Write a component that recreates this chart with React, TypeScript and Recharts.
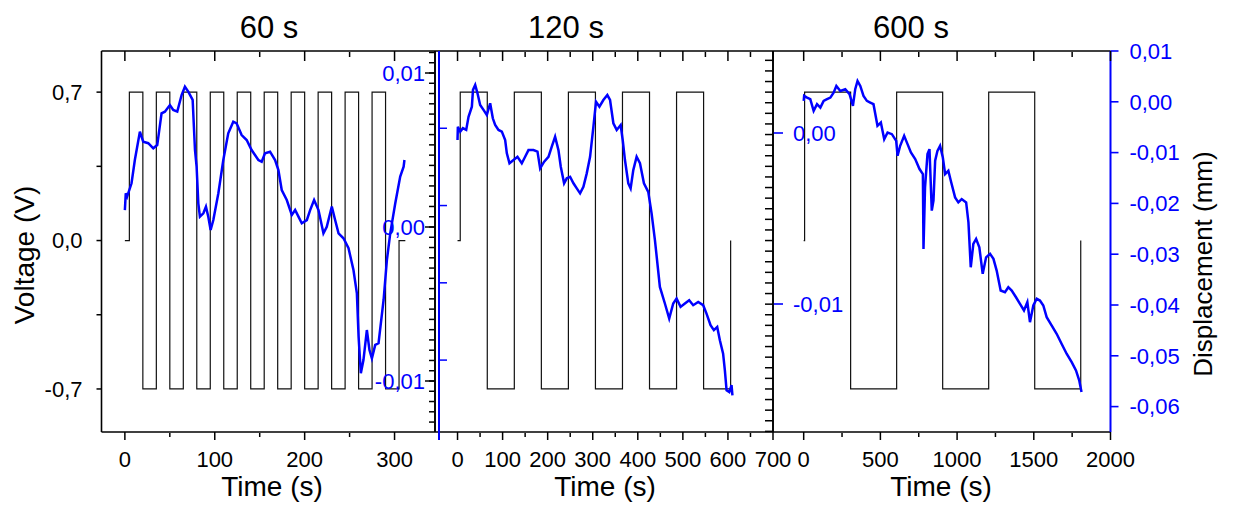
import React from 'react';
import { LineChart, Line, XAxis, YAxis } from 'recharts';

const W = 1233;
const H = 509;
const FONT = '"Liberation Sans", Arial, Helvetica, sans-serif';
const BLUE = '#0000ff';
const BLACK = '#000000';

// ---------- Panel 1 (60 s) ----------
const p1SquareTime = [0, 5, 5, 20, 20, 35, 35, 50, 50, 65, 65, 80, 80, 95, 95, 110, 110, 125, 125, 140, 140, 155, 155, 170, 170, 185, 185, 200, 200, 215, 215, 230, 230, 245, 245, 260, 260, 275, 275, 290, 290, 305, 305, 312];
const p1SquareVolt = [0, 0, 0.7, 0.7, -0.7, -0.7, 0.7, 0.7, -0.7, -0.7, 0.7, 0.7, -0.7, -0.7, 0.7, 0.7, -0.7, -0.7, 0.7, 0.7, -0.7, -0.7, 0.7, 0.7, -0.7, -0.7, 0.7, 0.7, -0.7, -0.7, 0.7, 0.7, -0.7, -0.7, 0.7, 0.7, -0.7, -0.7, 0.7, 0.7, -0.7, -0.7, 0, 0];
const p1DispTime = [0, 1, 2.5, 7.4, 11.1, 16.7, 20.4, 26, 31.6, 36, 40.8, 44.5, 50.1, 53.8, 58.3, 63.1, 66.8, 70.5, 75.4, 78, 79.8, 81.7, 83.5, 87.3, 90.2, 92.8, 95.4, 98.4, 104, 109.5, 115, 120.6, 124.3, 129.9, 135.5, 141, 148.5, 152.2, 155.9, 161.5, 167.1, 170.8, 174.5, 180.1, 185.7, 189.4, 193.1, 196.8, 202.4, 206.1, 210.5, 215.4, 220.9, 224.6, 230.2, 233.9, 237.7, 243.2, 248.8, 254.3, 258.1, 260, 262.5, 265.4, 269.2, 272.1, 274.8, 278.5, 282.2, 287.8, 291.5, 295.2, 300.8, 306.3, 310.1, 311];
const p1Disp = [0.0011, 0.00219, 0.00197, 0.00284, 0.00435, 0.00619, 0.00554, 0.00544, 0.00511, 0.00532, 0.00738, 0.00749, 0.00792, 0.0076, 0.00749, 0.00857, 0.00911, 0.00879, 0.00825, 0.005, 0.00392, 0.00154, 0.00067, 0.00089, 0.00132, 0.00067, -0.00019, 0.00045, 0.00219, 0.00435, 0.00608, 0.00684, 0.00673, 0.00597, 0.00565, 0.005, 0.00435, 0.00424, 0.00479, 0.00489, 0.00435, 0.0037, 0.0024, 0.00175, 0.00078, 0.0011, 0.00067, 0.00024, 0.00045, 0.0011, 0.00175, 0.0011, -0.00041, 0.00002, 0.00132, 0.00045, -0.00041, -0.00073, -0.00138, -0.00279, -0.00431, -0.00712, -0.0095, -0.00864, -0.00669, -0.00799, -0.00853, -0.00766, -0.00755, -0.00474, -0.00214, -0.00041, 0.00154, 0.00327, 0.00392, 0.00435];

// ---------- Panel 2 (120 s) ----------
const p2SquareTime = [0, 6, 6, 66, 66, 126, 126, 186, 186, 246, 246, 306, 306, 366, 366, 426, 426, 486, 486, 546, 546, 606, 606];
const p2SquareVolt = [0, 0, 0.7, 0.7, -0.7, -0.7, 0.7, 0.7, -0.7, -0.7, 0.7, 0.7, -0.7, -0.7, 0.7, 0.7, -0.7, -0.7, 0.7, 0.7, -0.7, -0.7, 0];
const p2DispTime = [0, 0.7, 6, 11.9, 19.2, 24.4, 31.8, 34.3, 39.2, 44.3, 50.2, 57.6, 65, 72.4, 78.3, 83.5, 90.9, 98.3, 105.7, 109.4, 115.3, 124.2, 133, 142.6, 150, 157.4, 168.5, 177.4, 183.3, 192.2, 201.8, 209.1, 216.5, 223.9, 229.1, 236.5, 242.4, 249.8, 257.2, 264.6, 271.9, 279.3, 286.7, 294.1, 301.5, 307.3, 314.8, 323.6, 332.4, 338.4, 345.8, 353.2, 362, 366.5, 371.5, 378.9, 384.1, 390, 397.4, 404.8, 413.6, 423.2, 430.6, 438, 449, 460.1, 469.7, 478.6, 486, 494.9, 504.5, 514, 522.9, 534, 545, 552.5, 561.4, 568.8, 576.2, 582.1, 589.3, 593.2, 597, 603, 608, 610];
const p2Disp = [-0.00041, 0.00037, 0.00008, 0.00028, 0.00018, 0.00095, 0.00154, 0.00252, 0.00281, 0.00232, 0.00164, 0.00135, 0.00105, 0.00174, 0.00086, 0.00047, 0.00018, 0.00008, -0.00041, -0.00119, -0.00177, -0.00158, -0.00139, -0.00177, -0.00139, -0.001, -0.001, -0.00109, -0.00207, -0.00168, -0.00139, -0.0008, -0.00022, -0.001, -0.00197, -0.00294, -0.00265, -0.00256, -0.00294, -0.00324, -0.00353, -0.00314, -0.00236, -0.00139, 0.00037, 0.00183, 0.00154, 0.00193, 0.00222, 0.00193, 0.00057, 0.00018, 0.00047, -0.00041, -0.00158, -0.00294, -0.00324, -0.00217, -0.00139, -0.00177, -0.00294, -0.00344, -0.0047, -0.00626, -0.009, -0.00997, -0.01085, -0.00997, -0.00968, -0.01017, -0.00997, -0.00978, -0.01007, -0.00988, -0.01007, -0.01056, -0.01124, -0.01153, -0.01134, -0.01212, -0.0129, -0.01388, -0.01505, -0.01515, -0.01475, -0.01534];

// ---------- Panel 3 (600 s) ----------
const p3SquareTime = [0, 6, 6, 306, 306, 606, 606, 906, 906, 1206, 1206, 1506, 1506, 1806, 1806];
const p3SquareVolt = [0, 0, 0.7, 0.7, -0.7, -0.7, 0.7, 0.7, -0.7, -0.7, 0.7, 0.7, -0.7, -0.7, 0];
const p3DispTime = [0, 3, 22, 43, 65, 87, 108.6, 130, 152, 174, 195, 213, 239, 271, 299, 321, 336, 351, 369, 390, 412, 434, 455, 481, 503, 525, 547, 575, 603, 612, 629, 655, 677, 699, 727, 755, 777, 781, 791, 807, 820, 835, 846, 857, 872, 889, 907, 922, 943, 959, 987, 1008, 1030, 1059, 1074, 1089, 1106, 1124, 1145, 1167, 1189, 1215, 1237, 1258, 1284, 1312, 1334, 1356, 1384, 1410, 1436, 1458, 1475, 1497, 1519, 1540, 1562, 1584, 1616, 1649, 1681, 1714, 1747, 1775, 1796, 1811];
const p3Disp = [0.00018, 0.00116, 0.00083, 0.00051, -0.00179, -0.00047, -0.00114, 0.00018, 0.00051, 0.00083, 0.00181, 0.00312, 0.00214, 0.00248, 0.00149, -0.00081, 0.00248, 0.00411, 0.00312, 0.00116, 0.00018, -0.00016, -0.00047, -0.00473, -0.00409, -0.00735, -0.00605, -0.00637, -0.00768, -0.01063, -0.00866, -0.0067, -0.00833, -0.00998, -0.01128, -0.01324, -0.01422, -0.02896, -0.01686, -0.01029, -0.00931, -0.02143, -0.01947, -0.01161, -0.00965, -0.00866, -0.01096, -0.01422, -0.01358, -0.01554, -0.01882, -0.0198, -0.01914, -0.0198, -0.02373, -0.03257, -0.02798, -0.02699, -0.02864, -0.03387, -0.03061, -0.02994, -0.03092, -0.03322, -0.03715, -0.03748, -0.0365, -0.03715, -0.03847, -0.03976, -0.04108, -0.03945, -0.04338, -0.0401, -0.03878, -0.03912, -0.0401, -0.0424, -0.04403, -0.04566, -0.04762, -0.04959, -0.05124, -0.05287, -0.05483, -0.05713];

// ---------- Ticks & labels ----------
const p1TimeTicks = [0, 100, 200, 300];
const p1TimeLabels = ['0', '100', '200', '300'];
const p1TimeMinor = [50, 150, 250];
const p2TimeTicks = [0, 100, 200, 300, 400, 500, 600, 700];
const p2TimeLabels = ['0', '100', '200', '300', '400', '500', '600', '700'];
const p2TimeMinor = [50, 150, 250, 350, 450, 550, 650];
const p3TimeTicks = [0, 500, 1000, 1500, 2000];
const p3TimeLabels = ['0', '500', '1000', '1500', '2000'];
const p3TimeMinor = [250, 750, 1250, 1750];

const voltTicks = [-0.7, -0.35, 0, 0.35, 0.7];
const voltLabels = ['-0,7', '', '0,0', '', '0,7'];

const p1DispTicks = [-0.01, 0, 0.01];
const p1DispLabels = ['-0,01', '0,00', '0,01'];
const p2LeftDispTicks = [-0.01, -0.005, 0, 0.005];
const p2DispTicks = [-0.01, 0];
const p2DispLabels = ['-0,01', '0,00'];
const p2DispMinor = [-0.015, -0.005];
const p3DispTicks = [0.01, 0, -0.01, -0.02, -0.03, -0.04, -0.05, -0.06];
const p3DispLabels = ['0,01', '0,00', '-0,01', '-0,02', '-0,03', '-0,04', '-0,05', '-0,06'];
const p3DispMinor = [0.005, -0.005, -0.015, -0.025, -0.035, -0.045, -0.055, -0.065];

const stepTicks = (from: number, to: number, step: number) => {
  const out: number[] = [];
  const n = Math.round((to - from) / step);
  for (let i = 0; i <= n; i++) out.push(+(from + i * step).toFixed(6));
  return out;
};
const voltFine = stepTicks(-0.9, 0.85, 0.05);
const p1DispFine = stepTicks(-0.0126667, 0.0113333, 0.01 / 15);

// ---------- Domains ----------
const VOLT_DOMAIN: [number, number] = [-0.903, 0.894];
const P1_T_DOMAIN: [number, number] = [-26, 345];
const P2_T_DOMAIN: [number, number] = [-50, 700];
const P3_T_DOMAIN: [number, number] = [-200, 2000];
const P1_D_DOMAIN: [number, number] = [-0.013312, 0.011429];
const P2L_D_DOMAIN: [number, number] = [-0.01517, 0.01];
const P2_D_DOMAIN: [number, number] = [-0.017485, 0.004795];
const P3_D_DOMAIN: [number, number] = [-0.065, 0.01];

const zip = (ts: number[], vs: number[], key: string) =>
  ts.slice(0, Math.min(ts.length, vs.length)).map((t, i) => ({ t, [key]: vs[i] }));

const p1Square = zip(p1SquareTime, p1SquareVolt, 'v');
const p1DispData = zip(p1DispTime, p1Disp, 'd');
const p2Square = zip(p2SquareTime, p2SquareVolt, 'v');
const p2DispData = zip(p2DispTime, p2Disp, 'd');
const p3Square = zip(p3SquareTime, p3SquareVolt, 'v');
const p3DispData = zip(p3DispTime, p3Disp, 'd');

const frame = { stroke: BLACK, strokeWidth: 1.6 };
const blueLine = { stroke: BLUE, strokeWidth: 2 };
const tickText = (fill: string) => ({ fill, fontSize: 22, fontFamily: FONT });
const fmt = (ticks: number[], labels: string[]) => (v: number) => {
  const i = ticks.findIndex((t) => Math.abs(t - v) < 1e-9);
  return i >= 0 ? labels[i] : '';
};

// Tick renderer: draws the tick mark (relative to the label anchor that the axis gives) and the label.
type Kind = 'down' | 'left' | 'right';
function makeTick(kind: Kind, size: number, margin: number, color: string, ticks?: number[], labels?: string[], fill?: string) {
  const label = ticks && labels ? fmt(ticks, labels) : null;
  return function TickMark(props: any) {
    const xx = Number(props.x);
    const yy = Number(props.y);
    const value = props.payload ? props.payload.value : 0;
    let x1 = xx, x2 = xx, y1 = yy, y2 = yy;
    if (kind === 'down') {
      y1 = yy - margin - size;
      y2 = yy - margin;
    } else if (kind === 'left') {
      x1 = xx + margin;
      x2 = xx + margin + size;
    } else {
      x1 = xx - margin - size;
      x2 = xx - margin;
    }
    const text = label ? label(value) : '';
    return (
      <g>
        <line x1={x1} y1={y1} x2={x2} y2={y2} stroke={color} strokeWidth={1.5} />
        {text ? (
          <text
            x={xx}
            y={yy}
            dy={kind === 'down' ? '0.71em' : '0.355em'}
            textAnchor={kind === 'down' ? 'middle' : kind === 'left' ? 'end' : 'start'}
            fill={fill || color}
            fontSize={22}
            fontFamily={FONT}
          >
            {text}
          </text>
        ) : null}
      </g>
    );
  };
}

const TOP = 51;
const PLOT_BOTTOM = 432;
const MARGIN_BOTTOM = H - PLOT_BOTTOM - 2;
const X_LABEL_MARGIN = 11;

function timeAxes(domain: [number, number], major: number[], majorLabels: string[], minor: number[]) {
  return [
    <XAxis key="b" xAxisId="b" type="number" dataKey="t" domain={domain} allowDataOverflow ticks={major} interval={0}
      height={1} tickSize={8} tickMargin={X_LABEL_MARGIN} stroke={BLACK} axisLine={frame} tickLine={false}
      tick={makeTick('down', 8, X_LABEL_MARGIN, BLACK, major, majorLabels, BLACK)} />,
    <XAxis key="bm" xAxisId="bm" type="number" dataKey="t" domain={domain} allowDataOverflow ticks={minor} interval={0}
      height={1} tickSize={4} tickMargin={0} stroke={BLACK} axisLine={false} tickLine={false}
      tick={makeTick('down', 4, 0, BLACK)} />,
    <XAxis key="t" xAxisId="t" orientation="top" mirror type="number" dataKey="t" domain={domain} allowDataOverflow ticks={major} interval={0}
      height={1} tickSize={10} tickMargin={0} stroke={BLACK} axisLine={frame} tickLine={false}
      tick={makeTick('down', 10, 0, BLACK)} />,
    <XAxis key="tm" xAxisId="tm" orientation="top" mirror type="number" dataKey="t" domain={domain} allowDataOverflow ticks={minor} interval={0}
      height={1} tickSize={5} tickMargin={0} stroke={BLACK} axisLine={false} tickLine={false}
      tick={makeTick('down', 5, 0, BLACK)} />,
  ];
}

const lineCommon = { dot: false as const, activeDot: false as const, isAnimationActive: false, xAxisId: 'b' };
const BLUE_W = 2.5;

function Panel1() {
  return (
    <LineChart width={W} height={H} margin={{ top: TOP, bottom: MARGIN_BOTTOM, left: 100.5, right: W - 435 }}>
      {timeAxes(P1_T_DOMAIN, p1TimeTicks, p1TimeLabels, p1TimeMinor)}
      <YAxis yAxisId="v" type="number" domain={VOLT_DOMAIN} allowDataOverflow ticks={voltTicks} interval={0} width={1}
        tickSize={5} tickMargin={14} stroke={BLACK} axisLine={frame} tickLine={false}
        tick={makeTick('left', 5, 14, BLACK, voltTicks, voltLabels, BLACK)} />
      <YAxis yAxisId="d" orientation="right" mirror type="number" domain={P1_D_DOMAIN} allowDataOverflow ticks={p1DispTicks} interval={0} width={1}
        tickSize={10} tickMargin={0} stroke={BLACK} axisLine={frame} tickLine={false}
        tick={makeTick('left', 10, 0, BLACK, p1DispTicks, p1DispLabels, BLUE)} />
      <YAxis yAxisId="dm" orientation="right" mirror type="number" domain={P1_D_DOMAIN} allowDataOverflow ticks={p1DispFine} interval={0} width={1}
        tickSize={5} tickMargin={0} stroke={BLACK} axisLine={false} tickLine={false}
        tick={makeTick('left', 5, 0, BLACK)} />
      <Line {...lineCommon} yAxisId="v" data={p1Square} dataKey="v" stroke="#111" strokeWidth={1.2} />
      <Line {...lineCommon} yAxisId="d" data={p1DispData} dataKey="d" stroke={BLUE} strokeWidth={BLUE_W} />
    </LineChart>
  );
}

function Panel2() {
  return (
    <LineChart width={W} height={H} margin={{ top: TOP, bottom: MARGIN_BOTTOM, left: 434, right: W - 773 - 2 }}>
      {timeAxes(P2_T_DOMAIN, p2TimeTicks, p2TimeLabels, p2TimeMinor)}
      <YAxis yAxisId="v" type="number" domain={VOLT_DOMAIN} allowDataOverflow ticks={voltTicks} interval={0} width={1}
        stroke={BLACK} axisLine={frame} tickLine={false} tick={false} />
      <YAxis yAxisId="vr" orientation="right" mirror type="number" domain={VOLT_DOMAIN} allowDataOverflow ticks={voltFine} interval={0} width={1}
        tickSize={8} tickMargin={0} stroke={BLACK} axisLine={frame} tickLine={false}
        tick={makeTick('left', 8, 0, BLACK)} />
      <YAxis yAxisId="d" orientation="right" type="number" domain={P2_D_DOMAIN} allowDataOverflow ticks={p2DispTicks} interval={0} width={1}
        tickSize={10} tickMargin={10} stroke={BLUE} strokeWidth={1.6} axisLine={false} tickLine tick={tickText(BLUE)}
        tickFormatter={fmt(p2DispTicks, p2DispLabels)} />
      <YAxis yAxisId="dm" orientation="right" type="number" domain={P2_D_DOMAIN} allowDataOverflow ticks={p2DispMinor} interval={0} width={1}
        tickSize={5} stroke={BLUE} strokeWidth={1.6} axisLine={false} tickLine tick={false} />
      <Line {...lineCommon} yAxisId="v" data={p2Square} dataKey="v" stroke="#111" strokeWidth={1.2} />
      <Line {...lineCommon} yAxisId="d" data={p2DispData} dataKey="d" stroke={BLUE} strokeWidth={BLUE_W} />
    </LineChart>
  );
}

// Separate layer for the offset blue displacement axis on the left of the 120 s panel
function Panel2BlueAxis() {
  return (
    <LineChart width={W} height={H} margin={{ top: TOP, bottom: H - 440, left: 439, right: W - 773 }}>
      <XAxis xAxisId="b" type="number" dataKey="t" domain={P2_T_DOMAIN} allowDataOverflow hide />
      <YAxis yAxisId="dl" type="number" domain={P2L_D_DOMAIN} allowDataOverflow ticks={p2LeftDispTicks} interval={0} width={1}
        mirror tickSize={8} tickMargin={0} stroke={BLUE} axisLine={blueLine} tickLine={false}
        tick={makeTick('right', 8, 0, BLUE)} />
    </LineChart>
  );
}

function Panel3() {
  return (
    <LineChart width={W} height={H} margin={{ top: TOP, bottom: MARGIN_BOTTOM, left: 772, right: W - 1110.5 - 2 }}>
      {timeAxes(P3_T_DOMAIN, p3TimeTicks, p3TimeLabels, p3TimeMinor)}
      <YAxis yAxisId="v" type="number" domain={VOLT_DOMAIN} allowDataOverflow ticks={voltTicks} interval={0} width={1}
        stroke={BLACK} axisLine={frame} tickLine={false} tick={false} />
      <YAxis yAxisId="d" orientation="right" type="number" domain={P3_D_DOMAIN} allowDataOverflow ticks={p3DispTicks} interval={0} width={1}
        tickSize={8} tickMargin={11} stroke={BLUE} strokeWidth={1.6} axisLine={blueLine} tickLine tick={tickText(BLUE)}
        tickFormatter={fmt(p3DispTicks, p3DispLabels)} />
      <YAxis yAxisId="dm" orientation="right" type="number" domain={P3_D_DOMAIN} allowDataOverflow ticks={p3DispMinor} interval={0} width={1}
        tickSize={4} stroke={BLUE} strokeWidth={1.6} axisLine={false} tickLine tick={false} />
      <Line {...lineCommon} yAxisId="v" data={p3Square} dataKey="v" stroke="#111" strokeWidth={1.2} />
      <Line {...lineCommon} yAxisId="d" data={p3DispData} dataKey="d" stroke={BLUE} strokeWidth={BLUE_W} />
    </LineChart>
  );
}

function Txt({ x, y, size, rotate, children }: { x: number; y: number; size: number; rotate?: boolean; children: React.ReactNode }) {
  return (
    <div
      style={{
        position: 'absolute',
        left: x,
        top: y,
        transform: `translate(-50%, -50%)${rotate ? ' rotate(-90deg)' : ''}`,
        fontSize: size,
        lineHeight: 1,
        whiteSpace: 'nowrap',
        fontFamily: FONT,
        color: BLACK,
      }}
    >
      {children}
    </div>
  );
}

const layer: React.CSSProperties = { position: 'absolute', left: 0, top: 0, width: W, height: H };

export default function App() {
  return (
    <div style={{ position: 'absolute', left: 0, top: 0, width: W, height: H, overflow: 'hidden', background: '#fff' }}>
      <div style={layer}><Panel1 /></div>
      <div style={layer}><Panel2 /></div>
      <div style={layer}><Panel2BlueAxis /></div>
      <div style={layer}><Panel3 /></div>
      <Txt x={269} y={27} size={31}>60 s</Txt>
      <Txt x={566} y={27} size={31}>120 s</Txt>
      <Txt x={911} y={27} size={31}>600 s</Txt>
      <Txt x={272} y={487} size={28}>Time (s)</Txt>
      <Txt x={605} y={487} size={28}>Time (s)</Txt>
      <Txt x={941} y={487} size={28}>Time (s)</Txt>
      <Txt x={25} y={255} size={28} rotate>Voltage (V)</Txt>
      <Txt x={1203} y={264} size={26} rotate>Displacement (mm)</Txt>
    </div>
  );
}
